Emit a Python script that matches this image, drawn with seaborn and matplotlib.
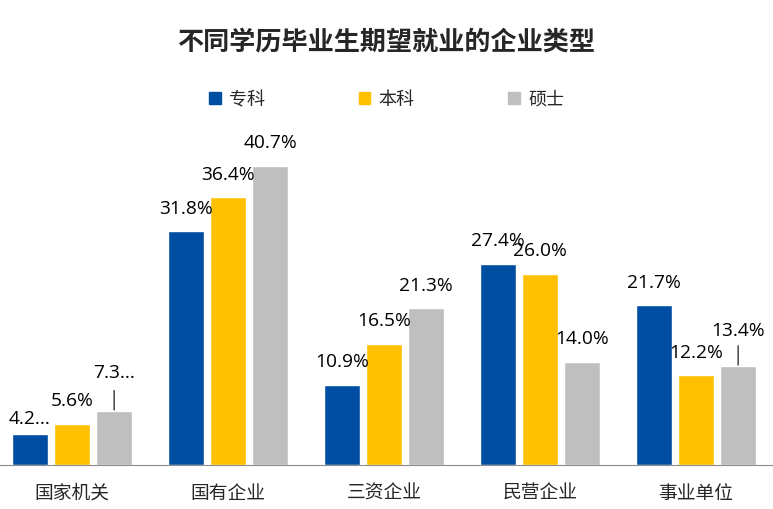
import pandas as pd
import matplotlib.pyplot as plt
import seaborn as sns

categories = ['国家机关', '国有企业', '三资企业', '民营企业', '事业单位']
series_names = ['专科', '本科', '硕士']
zhuanke = [4.2, 31.8, 10.9, 27.4, 21.7]
benke = [5.6, 36.4, 16.5, 26.0, 12.2]
shuoshi = [7.3, 40.7, 21.3, 14.0, 13.4]
colors = ['#004EA2', '#FFC000', '#BFBFBF']

rows = []
for name, vals in zip(series_names, [zhuanke, benke, shuoshi]):
    for cat, v in zip(categories, vals):
        rows.append({'类型': cat, '学历': name, '比例': v})
df = pd.DataFrame(rows)

sns.set_style('white')
plt.rcParams['font.family'] = ['Noto Sans CJK SC', 'DejaVu Sans']

fig = plt.figure(figsize=(7.73, 5.10), dpi=100)
ax = fig.add_axes([-6 / 773, 44 / 510, 780 / 773, 346 / 510])

sns.barplot(data=df, x='类型', y='比例', hue='学历', palette=colors,
            width=0.81, gap=0.14, ax=ax, legend=False, saturation=1)

ax.set_ylim(0, 47.07)
ax.set_xlim(-0.5, 4.5)
ax.set_xlabel('')
ax.set_ylabel('')
ax.set_yticks([])
for s in ['top', 'right', 'left']:
    ax.spines[s].set_visible(False)
ax.spines['bottom'].set_color('#8C8C8C')
ax.tick_params(axis='x', which='major', length=0, labelsize=13.5, pad=12)
ax.set_xticks([0.5, 1.5, 2.5, 3.5], minor=True)
ax.tick_params(axis='x', which='minor', length=7, color='#8C8C8C', direction='out')

# value labels; some are truncated or use a leader line like the original
special = {(0, 0): ('4.2...', 'short', 11.5), (2, 0): ('7.3...', 'leader', 28),
           (2, 4): ('13.4%', 'leader', 26)}
for si, container in enumerate(ax.containers):
    for ci, bar in enumerate(container):
        x = bar.get_x() + bar.get_width() / 2
        h = bar.get_height()
        label, mode, off = special.get((si, ci), (f'{h:.1f}%', 'normal', 17))
        if mode == 'leader':
            ax.annotate('', xy=(x, h), xytext=(0, 15), textcoords='offset points',
                        arrowprops=dict(arrowstyle='-', color='black', lw=0.8,
                                        shrinkA=0, shrinkB=1))
        ax.annotate(label, xy=(x, h), xytext=(0, off), textcoords='offset points',
                    ha='center', va='center', fontsize=13.8, color='black',
                    family=['Open Sans', 'DejaVu Sans'])

handles = [plt.Rectangle((0, 0), 1, 1, color=c) for c in colors]
fig.legend(handles, series_names, loc='center', bbox_to_anchor=(0.5, 1 - 100 / 510),
           ncol=3, frameon=False, fontsize=13, handlelength=0.65, handleheight=0.65,
           handletextpad=0.45, columnspacing=5.2)

fig.text(0.5, 1 - 42 / 510, '不同学历毕业生期望就业的企业类型', ha='center', va='center',
         fontsize=18.8, fontweight='bold')

fig.savefig('out.png', dpi=100)
